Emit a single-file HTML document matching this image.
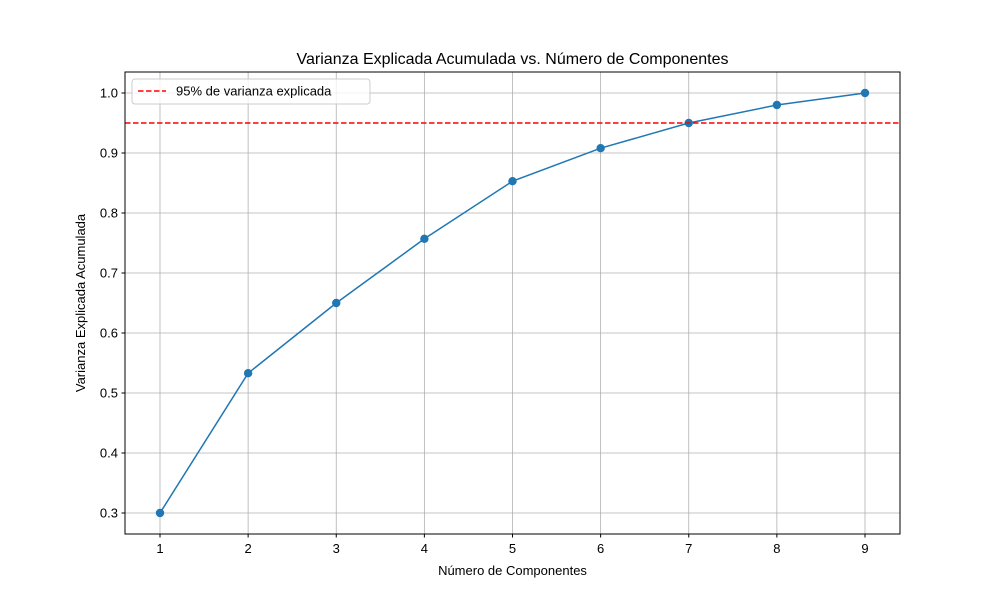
<!DOCTYPE html>
<html><head><meta charset="utf-8"><style>
html,body{margin:0;padding:0;background:#fff;}
svg{display:block;font-family:"Liberation Sans","DejaVu Sans",sans-serif;}
</style></head><body>
<svg id="chart" width="1000" height="600" viewBox="0 0 1000 600">
<rect width="1000" height="600" fill="#fff"/>
<g id="grid"></g>
<g id="ticks"></g>
<g id="series"></g>
<rect x="125" y="72" width="775" height="462" fill="none" stroke="#000" stroke-width="1"/>
<text x="512.5" y="64" text-anchor="middle" font-size="16">Varianza Explicada Acumulada vs. Número de Componentes</text>
<text x="512.5" y="575" text-anchor="middle" font-size="13">Número de Componentes</text>
<text transform="translate(85,303) rotate(-90)" text-anchor="middle" font-size="13">Varianza Explicada Acumulada</text>
<g>
<rect x="132" y="79" width="238" height="25" rx="3" fill="#fff" fill-opacity="0.8" stroke="#ccc"/>
<line x1="138" y1="91" x2="166" y2="91" stroke="#ff0000" stroke-width="1.5" stroke-dasharray="5.5,2.5"/>
<text x="176" y="95.5" font-size="13">95% de varianza explicada</text>
</g>
</svg>
<script>
const components = [1,2,3,4,5,6,7,8,9];
const cumVariance = [0.300,0.533,0.650,0.757,0.853,0.908,0.950,0.980,1.000];
const threshold = [0.95];
const yTicks = [0.3,0.4,0.5,0.6,0.7,0.8,0.9,1.0];
const xTicks = [1,2,3,4,5,6,7,8,9];

const NS="http://www.w3.org/2000/svg";
const L=125,R=900,T=72,B=534;
function xs(v){return 160+(v-1)*(865-160)/8;}
function ys(v){return 513-(v-0.3)*600;}
function mk(tag,attrs,parent){const e=document.createElementNS(NS,tag);for(const k in attrs)e.setAttribute(k,attrs[k]);parent.appendChild(e);return e;}
const grid=document.getElementById('grid'),ticks=document.getElementById('ticks'),series=document.getElementById('series');
xTicks.forEach(v=>{
  const x=xs(v);
  let g=mk('line',{x1:x,x2:x,y1:T,y2:B,stroke:'#b0b0b0','stroke-width':0.8},grid);
  
  
  let t=mk('line',{x1:x,x2:x,y1:B,y2:B+3.5,stroke:'#000'},ticks);
  
  
  let l=mk('text',{x:x,y:B+19,'text-anchor':'middle','font-size':13},ticks);
  l.textContent=v;
  
  
});
yTicks.forEach(v=>{
  const y=ys(v);
  let g=mk('line',{x1:L,x2:R,y1:y,y2:y,stroke:'#b0b0b0','stroke-width':0.8},grid);
  
  
  let t=mk('line',{x1:L-3.5,x2:L,y1:y,y2:y,stroke:'#000'},ticks);
  
  
  let l=mk('text',{x:L-7,y:y+4.5,'text-anchor':'end','font-size':13},ticks);
  l.textContent=v.toFixed(1);
  
  
});
let pts=components.map((c,i)=>xs(c)+','+ys(cumVariance[i])).join(' ');
let line=mk('polyline',{points:pts,fill:'none',stroke:'#1f77b4','stroke-width':1.5},series);


components.forEach((c,i)=>{
  let p=mk('circle',{cx:xs(c),cy:ys(cumVariance[i]),r:4.2,fill:'#1f77b4'},series);
  
  
});
let th=mk('line',{x1:L,x2:R,y1:ys(threshold[0]),y2:ys(threshold[0]),stroke:'#ff0000','stroke-width':1.5,'stroke-dasharray':'5.5,2.5'},series);


</script>
</body></html>
